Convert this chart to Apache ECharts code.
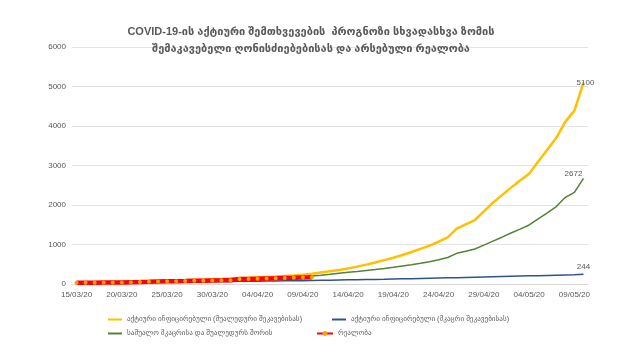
<!DOCTYPE html>
<html>
<head>
<meta charset="utf-8">
<script src="https://cdn.jsdelivr.net/npm/echarts@6/dist/echarts.min.js"></script>
<style>html,body{margin:0;padding:0;background:#fff}#c{width:640px;height:360px}</style>
</head>
<body>
<div id="c"></div>
<script>
const categories = ['15/03/20','16/03/20','17/03/20','18/03/20','19/03/20','20/03/20','21/03/20','22/03/20','23/03/20','24/03/20','25/03/20','26/03/20','27/03/20','28/03/20','29/03/20','30/03/20','31/03/20','01/04/20','02/04/20','03/04/20','04/04/20','05/04/20','06/04/20','07/04/20','08/04/20','09/04/20','10/04/20','11/04/20','12/04/20','13/04/20','14/04/20','15/04/20','16/04/20','17/04/20','18/04/20','19/04/20','20/04/20','21/04/20','22/04/20','23/04/20','24/04/20','25/04/20','26/04/20','27/04/20','28/04/20','29/04/20','30/04/20','01/05/20','02/05/20','03/05/20','04/05/20','05/05/20','06/05/20','07/05/20','08/05/20','09/05/20','10/05/20'];
const yellowMid = [31,35,39,43,47,52,57,62,68,74,80,87,94,102,110,119,128,138,148,158,169,180,191,203,216,235,260,290,320,355,395,440,490,545,605,665,735,810,890,970,1070,1180,1400,1510,1620,1840,2060,2250,2440,2620,2790,3100,3400,3700,4110,4390,5100];
const blueStrict = [31,33,35,37,39,41,43,45,47,49,51,53,55,57,59,61,63,66,68,70,72,75,77,80,82,85,89,93,97,101,105,109,113,117,121,126,131,136,141,146,151,156,161,166,171,176,182,188,194,200,206,212,218,224,230,236,244];
const greenAvg = [31,34,37,40,43,46,50,54,58,62,66,71,76,81,86,92,98,104,111,118,125,133,141,150,160,175,200,222,245,270,295,318,342,366,393,422,455,488,523,565,615,670,776,830,885,985,1085,1185,1290,1390,1495,1650,1800,1960,2194,2320,2672];
const reality = [31,32,33,36,38,41,46,51,57,65,69,72,75,80,82,90,93,97,125,128,132,140,143,155,157,165,168];
const yTicks = [0,1000,2000,3000,4000,5000,6000];
const titleText = 'COVID-19-ის აქტიური შემთხვევების  პროგნოზი სხვადასხვა ზომის\nშემაკავებელი ღონისძიებებისას და არსებული რეალობა';
const names = ['აქტიური ინფიცირებული (შუალედური შეკავებისას)','აქტიური ინფიცირებული (მკაცრი შეკავებისას)','საშუალო მკაცრისა და შუალედურს შორის','რეალობა'];

const FONT = '"Liberation Sans", "DejaVu Sans", sans-serif';
function endLabel(offset) {
  return {show: true, formatter: '{c}', distance: 0, offset: offset, align: 'center', verticalAlign: 'bottom',
    fontSize: 8, color: '#595959', fontFamily: FONT};
}
const legendText = {fontSize: 7.2, color: '#595959', fontFamily: FONT};
const lineIcon = 'rect';
const chart = echarts.init(document.getElementById('c'), null, {renderer: 'canvas'});
chart.setOption({
  animation: false,
  backgroundColor: '#fff',
  title: {text: titleText, left: 306, top: 18, textAlign: 'center',
    textStyle: {fontSize: 11, fontWeight: 'bold', color: '#595959', fontFamily: FONT, lineHeight: 17}},
  grid: {left: 72, right: 52, top: 47, bottom: 76},
  legend: [
    {data: [{name: names[0], icon: lineIcon}], left: 103, top: 311, itemWidth: 14, itemHeight: 2, textStyle: legendText},
    {data: [{name: names[1], icon: lineIcon}], left: 327, top: 311, itemWidth: 14, itemHeight: 2, textStyle: legendText},
    {data: [{name: names[2], icon: lineIcon}], left: 103, top: 325, itemWidth: 14, itemHeight: 2, textStyle: legendText},
    {data: [names[3]], left: 311, top: 325, itemWidth: 16, itemHeight: 6, textStyle: legendText}
  ],
  xAxis: {type: 'category', data: categories, boundaryGap: true,
    axisLine: {lineStyle: {color: '#d9d9d9'}}, axisTick: {show: false},
    axisLabel: {interval: 4, fontSize: 8, color: '#595959', fontFamily: FONT, margin: 7}},
  yAxis: {type: 'value', min: yTicks[0], max: yTicks[yTicks.length-1], interval: 1000,
    axisLine: {show: false}, axisTick: {show: false},
    splitLine: {lineStyle: {color: '#e3e3e3'}},
    axisLabel: {fontSize: 8, color: '#595959', fontFamily: FONT, margin: 6, formatter: v => String(v)}},
  series: [
    {name: names[0], type: 'line', data: yellowMid, showSymbol: false, symbol: 'none',
      lineStyle: {color: '#FFC000', width: 2.5}, itemStyle: {color: '#FFC000'},
      endLabel: endLabel([2, 4]), z: 2},
    {name: names[1], type: 'line', data: blueStrict, showSymbol: false, symbol: 'none',
      lineStyle: {color: '#2F528F', width: 1.5}, itemStyle: {color: '#2F528F'},
      endLabel: endLabel([0, -4]), z: 2},
    {name: names[2], type: 'line', data: greenAvg, showSymbol: false, symbol: 'none',
      lineStyle: {color: '#548235', width: 1.5}, itemStyle: {color: '#548235'},
      endLabel: endLabel([-10, -1]), z: 2},
    {name: names[3], type: 'line', data: reality, symbol: 'circle', symbolSize: 4, showSymbol: true,
      lineStyle: {color: '#FF0000', width: 4.5}, itemStyle: {color: '#FFA000', borderWidth: 0}, z: 5}
  ]
});
</script>
</body>
</html>
